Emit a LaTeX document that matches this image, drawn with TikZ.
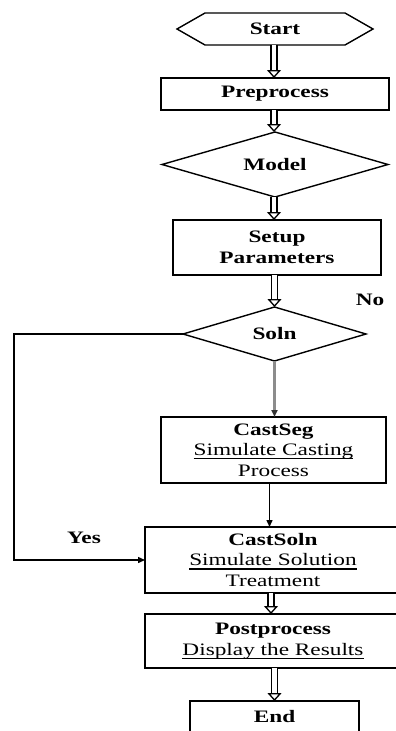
\documentclass[tikz,border=0pt]{standalone}
\usepackage{fontspec}
\setmainfont{Liberation Serif}[FakeStretch=1.33]
\usetikzlibrary{shapes.geometric,arrows.meta}
% underline drawn as a solid rule a little below the baseline
\newcommand\ulbar[1]{\setbox0\hbox{#1}\rlap{\rule[-3.6pt]{\wd0}{1.1pt}}\box0}
\begin{document}
\begin{tikzpicture}[x=1pt,y=1pt,
  every node/.style={font=\fontsize{17.5}{20.5}\selectfont, inner sep=0pt, outer sep=0pt},
  box/.style={draw, line width=1.6pt, rectangle, align=center},
  decision/.style={draw, line width=1.4pt, diamond, aspect=3},
  ghost/.style={rectangle},
  dbl/.style={line width=1.3pt, double, double distance=4.5pt,
    -{Triangle[open,length=8pt,width=14pt,line width=1.3pt]}},
  flow/.style={line width=1.4pt, -{Triangle[length=7pt,width=6pt]}},
  grayflow/.style={line width=2.2pt, black!45, -{Triangle[length=7pt,width=6pt,color=black!80]}},
  lbl/.style={font=\fontsize{17.5}{20.5}\selectfont\bfseries}]
\useasboundingbox (0,0) rectangle (396,-731);
\clip (0,0) rectangle (396,-731);

% start terminal (hexagon)
\node[ghost, minimum width=196, minimum height=32] (start) at (275,-29) {\bfseries Start};
\draw[line width=1.4pt] (start.west) -- ([xshift=28]start.north west)
  -- ([xshift=-28]start.north east) -- (start.east)
  -- ([xshift=-28]start.south east) -- ([xshift=28]start.south west) -- cycle;

% main steps
\node[box, minimum width=228, minimum height=32] (pre) at (275,-94) {\bfseries Preprocess};
\node[decision, minimum width=226, minimum height=65] (model) at (275,-164.5) {\bfseries Model};
\node[box, minimum width=208, minimum height=55] (setup) at (277,-247.5)
  {\bfseries Setup\\\bfseries Parameters};
\node[decision, minimum width=183, minimum height=54] (soln) at (274.5,-334) {\bfseries Soln};
\node[box, minimum width=225, minimum height=66] (castseg) at (273.5,-450)
  {\bfseries CastSeg\\\ulbar{Simulate Casting}\\Process};
\node[box, minimum width=256, minimum height=66] (castsoln) at (273,-560)
  {\bfseries CastSoln\\\ulbar{Simulate Solution}\\Treatment};
\node[box, minimum width=256, minimum height=54] (post) at (273,-641)
  {\bfseries Postprocess\\\ulbar{Display the Results}};
\node[box, minimum width=169, minimum height=32] (end) at (274.5,-717) {\bfseries End};

% branch labels
\node[lbl] (no) at (370,-300) {No};
\node[lbl] (yes) at (84,-538) {Yes};

% connectors
\draw[dbl] ([xshift=-1]start.south) -- ([xshift=-1]start.south |- pre.north);
\draw[dbl] ([xshift=-1]pre.south) -- ([xshift=-1]pre.south |- model.north);
\draw[dbl] ([xshift=-1]model.south) -- ([xshift=-1]model.south |- setup.north);
\draw[dbl] (soln.north |- setup.south) -- (soln.north);
\draw[grayflow] (soln.south) -- (soln.south |- castseg.north);
\draw[flow] ([xshift=-4]castseg.south) -- ([xshift=-4]castseg.south |- castsoln.north);
\draw[dbl] ([xshift=-2]castsoln.south) -- ([xshift=-2]castsoln.south |- post.north);
\draw[dbl] (end.north |- post.south) -- (end.north);

\coordinate (bend) at (14,-560);
\draw[flow] (soln.west) -| (bend) -- (castsoln.west);
\end{tikzpicture}
\end{document}
